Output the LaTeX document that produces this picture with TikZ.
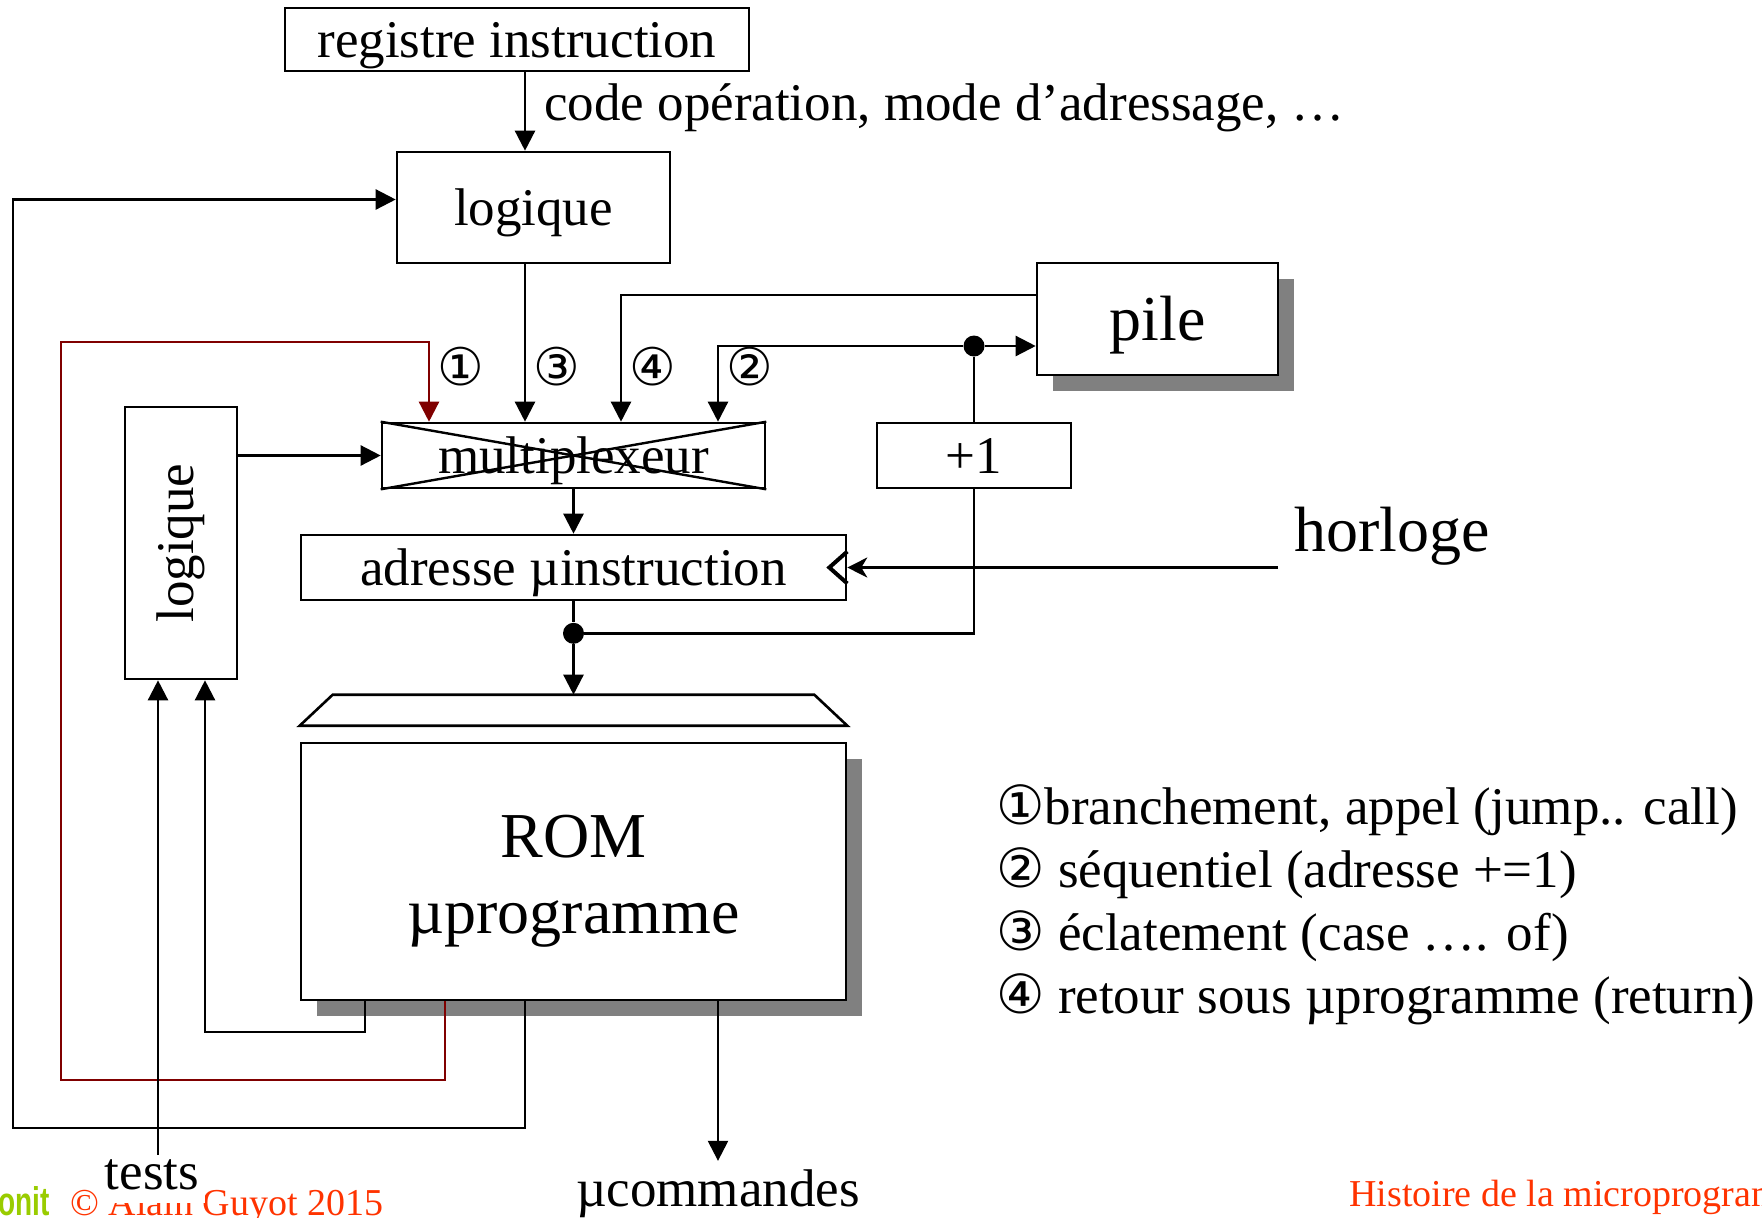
\documentclass[tikz,border=0pt]{standalone}
\usepackage{fontspec}
\setmainfont{Liberation Serif}
\newfontfamily\symfont{DejaVu Sans}
\newfontfamily\footsans{Liberation Sans}
\usetikzlibrary{positioning, calc, arrows.meta, shadows}
\definecolor{footred}{RGB}{255,51,0}
\definecolor{footgreen}{RGB}{153,204,0}
\newcommand{\cnumtxt}[1]{{\symfont\fontsize{27}{30}\selectfont #1}}

\begin{document}
\begin{tikzpicture}[%
    x=0.5pt, y=-0.5pt,
    % Styles
    box/.style={draw, line width=1.3pt, fill=white, inner sep=0pt, font=\fontsize{26.5}{30}\selectfont, text height=17.8pt, text depth=0pt},
    bigbox/.style={box, font=\fontsize{32}{38}\selectfont, text height=21.4pt},
    shadowed/.style={drop shadow={shadow xshift=8pt, shadow yshift=-8pt, fill=gray, opacity=1}},
    wire/.style={line width=1.2pt},
    arr/.style={wire, -{Triangle[length=10pt, width=10pt]}},
    redarr/.style={arr, draw=red!50!black},
    clkarr/.style={wire, -{Stealth[length=10pt, width=10pt, inset=3pt]}},
    dot/.style={circle, fill, inner sep=0pt, minimum size=10.5pt},
    cnum/.style={font=\symfont\fontsize{26}{30}\selectfont, inner sep=0pt},
    txt/.style={font=\fontsize{26.5}{30}\selectfont},
    bigtxt/.style={font=\fontsize{32}{38}\selectfont},
    foot/.style={font=\fontsize{19}{22}\selectfont, text=footred, inner sep=0pt}
]
\useasboundingbox (0,0) rectangle (1762,1217);
\clip (0,0) rectangle (1762,1217);

% --- Footer ---
\node[font=\footsans\bfseries\fontsize{20}{22}\selectfont, text=footgreen, anchor=base east, inner sep=0pt] (brand) at (50,1215) {\scalebox{0.7}[1]{onit}};
\node[foot, anchor=base west] (copy) at (70,1215) {© Alain Guyot 2015};
\node[foot, anchor=base west] (title) at (1349,1206) {Histoire de la microprogrammation};

% --- Blocks ---
\node[box, minimum width=232pt, minimum height=31.5pt] (regI) at (517,39.5) {registre instruction};
\node[box, minimum width=136.5pt, minimum height=55.5pt] (logA) at (533.5,207.5) {logique};
\node[bigbox, shadowed, minimum width=120.5pt, minimum height=56pt] (pile) at (1157.5,319) {pile};
\node[box, minimum width=191.5pt, minimum height=32.5pt] (mux) at (573.5,455.5) {multiplexeur};
\node[box, minimum width=97pt, minimum height=32.5pt] (plus1) at (974,455.5) {+1};
\node[box, text height=, text depth=, minimum width=56pt, minimum height=136pt] (logB) at (181,543) {\rotatebox{90}{logique}};
\node[box, minimum width=272.5pt, minimum height=32.5pt] (adr) at (573.5,567.5) {adresse µinstruction};
\node[bigbox, shadowed, minimum width=272.5pt, minimum height=128.5pt] (rom) at (573.5,871.5) {};
\node[bigtxt, align=center] (romtxt) at ($(rom.center)+(0,10)$) {ROM\\µprogramme};

% multiplexer cross
\draw[wire] (mux.north west) -- (mux.south east);
\draw[wire] (mux.south west) -- (mux.north east);

% clock input
\draw[line width=2pt] ($(adr.east)+(0,-16)$) -- ($(adr.east)+(-18,0)$) -- ($(adr.east)+(0,16)$);

% decoder
\coordinate (dec) at ($(rom.north)+(0,-47)$);
\draw[line width=1.3pt] ($(rom.north west)+(0,-16)$) -- ($(rom.north east)+(0,-16)$)
    -- ($(rom.north east)+(-33,-47)$) -- ($(rom.north west)+(33,-47)$) -- cycle;

% --- Multiplexer inputs ---
\coordinate (in1) at ($(mux.north)+(-144.5,0)$);
\coordinate (in3) at ($(mux.north)+(-48.5,0)$);
\coordinate (in4) at ($(mux.north)+(47.5,0)$);
\coordinate (in2) at ($(mux.north)+(144.5,0)$);

\node[cnum, anchor=west] (n1) at ($(in1)+(8,-55)$) {①};
\node[cnum, anchor=west] (n3) at ($(in3)+(8,-55)$) {③};
\node[cnum, anchor=west] (n4) at ($(in4)+(8,-55)$) {④};
\node[cnum, anchor=west] (n2) at ($(in2)+(8,-55)$) {②};

\draw[arr] (regI.south -| in3) -- node[txt, anchor=west, inner sep=9pt, yshift=2pt] (codeop) {code opération, mode d’adressage, …} (logA.north -| in3);
\draw[arr] (logA.south -| in3) -- (in3);

\coordinate (p4) at ($(pile.west)+(0,-24)$);
\draw[arr] (p4) -| (in4);
\coordinate (p2) at ($(pile.west)+(0,27)$);
\node[dot] (jn1) at (p2 -| plus1.north) {};
\draw[arr] (jn1) -- (p2);
\draw[arr] (jn1) -| (in2);
\draw[wire] (jn1) -- (plus1.north);

\node[dot] (jn2) at ($(adr.south)+(0,32)$) {};
\draw[wire] (plus1.south) |- (jn2);
\draw[wire] (adr.south) -- (jn2);
\draw[arr] (mux.south) -- (adr.north);
\draw[arr] (logB.east |- mux.west) -- (mux.west);
\draw[arr] (jn2) -- (dec);

% horloge
\node[bigtxt, anchor=base west, inner sep=8pt] (hor) at (1278,551) {horloge};
\draw[clkarr] (hor.west |- adr.east) -- (adr.east);

% --- Feedback from the ROM ---
\coordinate (tapB) at ($(rom.south)+(-208.5,0)$);
\coordinate (tapR) at ($(rom.south)+(-128.5,0)$);
\coordinate (tapA) at (rom.south -| in3);
\coordinate (tapC) at (rom.south -| in2);
\coordinate (loopB) at (205,1032);
\coordinate (loopR) at (61,1080);
\coordinate (loopA) at (13,1128);

\draw[arr] (tapB) |- (loopB) -- (logB.south -| loopB);
\draw[redarr] (tapR) |- (loopR) |- ($(in1)+(0,-80)$) -- (in1);
\draw[arr] (tapA) |- (loopA) |- ([yshift=4pt]logA.west);

% tests and microcommands
\coordinate (tB) at ($(logB.south)+(-23,0)$);
\node[txt, fill=white, anchor=base, inner xsep=3pt, inner ysep=2pt, text depth=5pt] (tests) at (152,1189) {tests};
\draw[arr] (tests.north -| tB) -- (tB);
\node[txt, anchor=base, inner sep=4pt] (ucmd) at (718,1206) {µcommandes};
\draw[arr] (tapC) -- (ucmd.north -| tapC);

% --- Legend ---
\node[txt, anchor=base west, inner sep=0pt] (leg1) at (996,824) {\cnumtxt{①}branchement, appel (jump.. call)};
\node[txt, anchor=base west, inner sep=0pt] (leg2) at (996,887) {\cnumtxt{②} séquentiel (adresse +=1)};
\node[txt, anchor=base west, inner sep=0pt] (leg3) at (996,950) {\cnumtxt{③} éclatement (case …. of)};
\node[txt, anchor=base west, inner sep=0pt] (leg4) at (996,1013) {\cnumtxt{④} retour sous µprogramme (return)};

\end{tikzpicture}
\end{document}
